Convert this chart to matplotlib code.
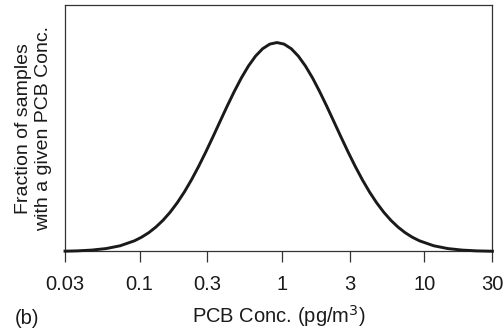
import matplotlib
matplotlib.use("Agg")
import matplotlib.pyplot as plt
from matplotlib.ticker import FixedLocator, FixedFormatter, NullLocator

plt.rcParams['font.family'] = ['Liberation Sans', 'DejaVu Sans']

# PCB concentration (pg/m^3) and relative fraction of samples
conc = [0.03, 0.0367, 0.0462, 0.0582, 0.0732, 0.0922, 0.1034, 0.1161, 0.1302,
        0.1461, 0.1640, 0.1839, 0.2064, 0.2315, 0.2598, 0.2915, 0.3271,
        0.3670, 0.4117, 0.4620, 0.5184, 0.5816, 0.6526, 0.7322, 0.8215,
        0.922, 1.034, 1.161, 1.302, 1.461, 1.640, 1.839, 2.064, 2.315, 2.598,
        2.915, 3.271, 3.670, 4.117, 4.620, 5.184, 5.816, 6.526, 7.322, 8.215,
        9.220, 11.61, 14.61, 18.39, 23.15, 30]
fraction = [0.0014, 0.0029, 0.0066, 0.0138, 0.0273, 0.0511, 0.0683, 0.0899,
            0.1166, 0.1490, 0.1877, 0.2328, 0.2846, 0.3427, 0.4067, 0.4754,
            0.5475, 0.6213, 0.6946, 0.7651, 0.8303, 0.8878, 0.9353, 0.9707,
            0.9926, 1.0, 0.9926, 0.9707, 0.9353, 0.8878, 0.8303, 0.7651,
            0.6946, 0.6213, 0.5475, 0.4754, 0.4067, 0.3427, 0.2846, 0.2328,
            0.1877, 0.1490, 0.1166, 0.0899, 0.0683, 0.0511, 0.0273, 0.0138,
            0.0066, 0.0029, 0.0011]

tick_values = [0.03, 0.1, 0.3, 1, 3, 10, 30]
tick_labels = ["0.03", "0.1", "0.3", "1", "3", "10", "30"]

fig = plt.figure(figsize=(5.04, 3.30), dpi=100)
ax = fig.add_axes([0.129, 0.238, 0.848, 0.747])

ax.plot(conc, fraction, color='#1a1a1a', lw=2.1, clip_on=False, zorder=3,
        solid_joinstyle='round')
ax.set_xscale('log')
ax.set_xlim(0.03, 30)
ax.set_ylim(0, 1.18)

ax.xaxis.set_major_locator(FixedLocator(tick_values))
ax.xaxis.set_major_formatter(FixedFormatter(tick_labels))
ax.xaxis.set_minor_locator(NullLocator())
ax.set_yticks([])
ax.tick_params(axis='x', direction='out', length=8, width=0.9,
               color='#333333', labelsize=14.5, pad=9, labelcolor='#1a1a1a')

for s in ax.spines.values():
    s.set_color('#333333')
    s.set_linewidth(0.9)

ax.set_xlabel("PCB Conc. (pg/m$^3$)", fontsize=14.5, color='#1a1a1a', labelpad=6.5)
ax.set_ylabel("Fraction of samples\nwith a given PCB Conc.", fontsize=14,
              color='#1a1a1a', labelpad=9, linespacing=1.25)
fig.text(15/504, 1 - 319/330, "(b)", fontsize=14.5, color='#1a1a1a', va='center')

fig.savefig("out.png", dpi=100)
